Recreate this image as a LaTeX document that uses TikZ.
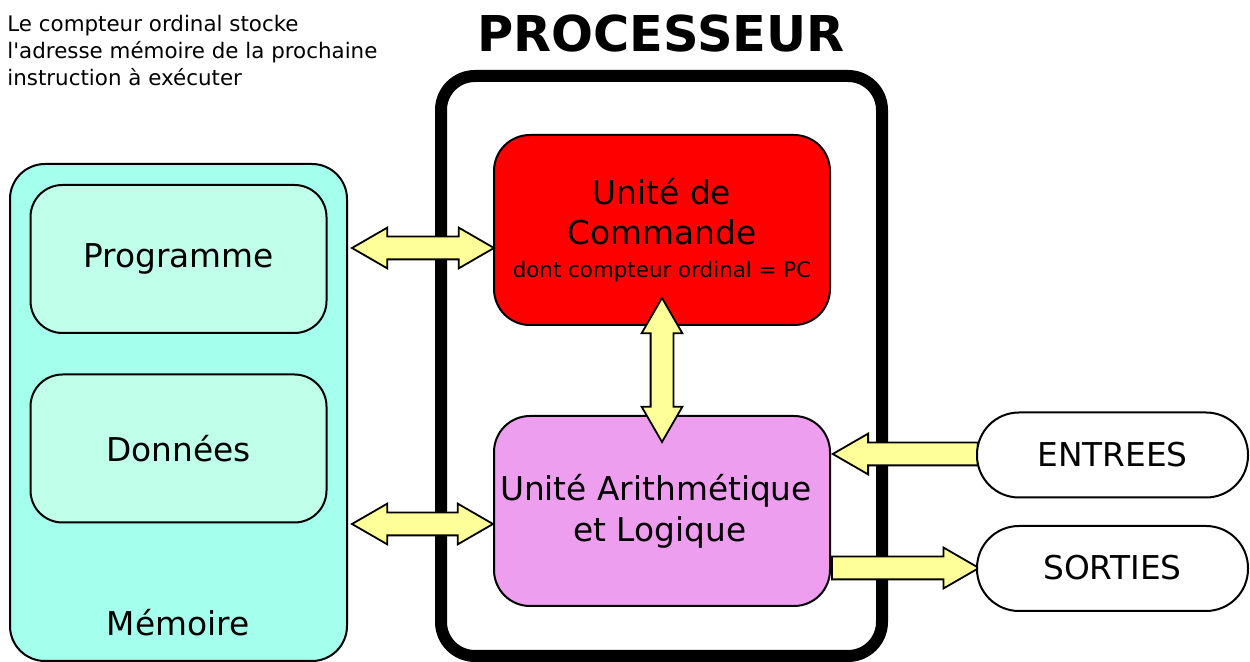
\documentclass[tikz,border=0pt]{standalone}
\usepackage{fontspec}
\setmainfont{DejaVu Sans}[Ligatures=TeXOff]
\usetikzlibrary{shapes.arrows}
\definecolor{memout}{HTML}{A4FFEC}
\definecolor{memin}{HTML}{C0FFEA}
\definecolor{ucred}{HTML}{FF0000}
\definecolor{ualviolet}{HTML}{EE9EEE}
\definecolor{fatyellow}{HTML}{FFFF99}
\begin{document}
\begin{tikzpicture}[x=0.5pt,y=-0.5pt,
  bigtxt/.style={font=\fontsize{16.4}{19.7}\selectfont, inner sep=0pt},
  smalltxt/.style={font=\fontsize{10.7}{13.5}\selectfont, inner sep=0pt},
  membox/.style={draw=black, line width=1pt, fill=memout, rounded corners=17.5pt, minimum width=168.5pt, minimum height=248.5pt},
  inbox/.style={draw=black, line width=1pt, fill=memin, rounded corners=16pt, minimum width=148pt, minimum height=74pt, bigtxt},
  unitbox/.style={draw=black, line width=1pt, rounded corners=18pt, minimum width=168pt, minimum height=95pt},
  iobox/.style={draw=black, line width=1pt, fill=white, rounded corners=21pt, minimum width=135.5pt, minimum height=42.5pt, bigtxt},
  fatdbl/.style={double arrow, draw=black, line width=0.9pt, fill=fatyellow, inner xsep=0pt, inner ysep=5.25pt, double arrow head extend=4.5pt, double arrow tip angle=60},
  fatone/.style={single arrow, draw=black, line width=0.9pt, fill=fatyellow, inner xsep=0pt, inner ysep=5.25pt, single arrow head extend=4.5pt, single arrow tip angle=60}
]
\useasboundingbox (0,0) rectangle (1250,662);

% annotation
\node[smalltxt, anchor=base west] (note1) at (7,31.5) {Le compteur ordinal stocke};
\node[smalltxt, anchor=base west] (note2) at (7,58.5) {l'adresse mémoire de la prochaine};
\node[smalltxt, anchor=base west] (note3) at (7,85.5) {instruction à exécuter};

% memory
\node[membox] (mem) at (178.5,412.5) {};
\node[inbox] (prog) at (178.5,259) {Programme};
\node[inbox] (don) at (178.5,448.5) {Données};
\node[bigtxt, anchor=base] (memlbl) at (178,636) {Mémoire};

% processor
\node[draw=black, line width=6pt, rounded corners=17pt, minimum width=220.5pt, minimum height=290pt] (proc) at (661.5,366) {};
\node[font=\fontsize{24.7}{29}\selectfont\bfseries, inner sep=0pt, anchor=base] (title) at (661,52) {PROCESSEUR};

\node[unitbox, fill=ucred] (uc) at (662,230) {};
\node[bigtxt, anchor=base] (uct1) at (662,205) {Unité de};
\node[bigtxt, anchor=base] (uct2) at (662,245) {Commande};
\node[smalltxt, anchor=base] (uct3) at (662,278) {dont compteur ordinal = PC};

\node[unitbox, fill=ualviolet] (ual) at (662,511) {};
\node[bigtxt, anchor=base] (ualt1) at (656,501) {Unité Arithmétique};
\node[bigtxt, anchor=base] (ualt2) at (660,542) {et Logique};

% arrows
\node[fatdbl, minimum height=71pt] (a1) at (423,248) {};
\node[fatdbl, minimum height=70.5pt] (a2) at (422.5,524) {};
\node[fatdbl, minimum height=72pt, rotate=90] (a3) at (662,370) {};
\node[fatone, minimum height=72.5pt, rotate=180, anchor=tip] (a4) at (ual.east |- 0,454) {};
\node[fatone, minimum height=73.5pt, anchor=tail] (a5) at (ual.east |- 0,568) {};

% I/O
\node[iobox] (ent) at (1112.5,455) {};
\node[bigtxt, anchor=base] (entt) at (1112.5,467) {ENTREES};
\node[iobox] (sor) at (1112.5,568.5) {};
\node[bigtxt, anchor=base] (sort) at (1112.5,580) {SORTIES};
\end{tikzpicture}
\end{document}
